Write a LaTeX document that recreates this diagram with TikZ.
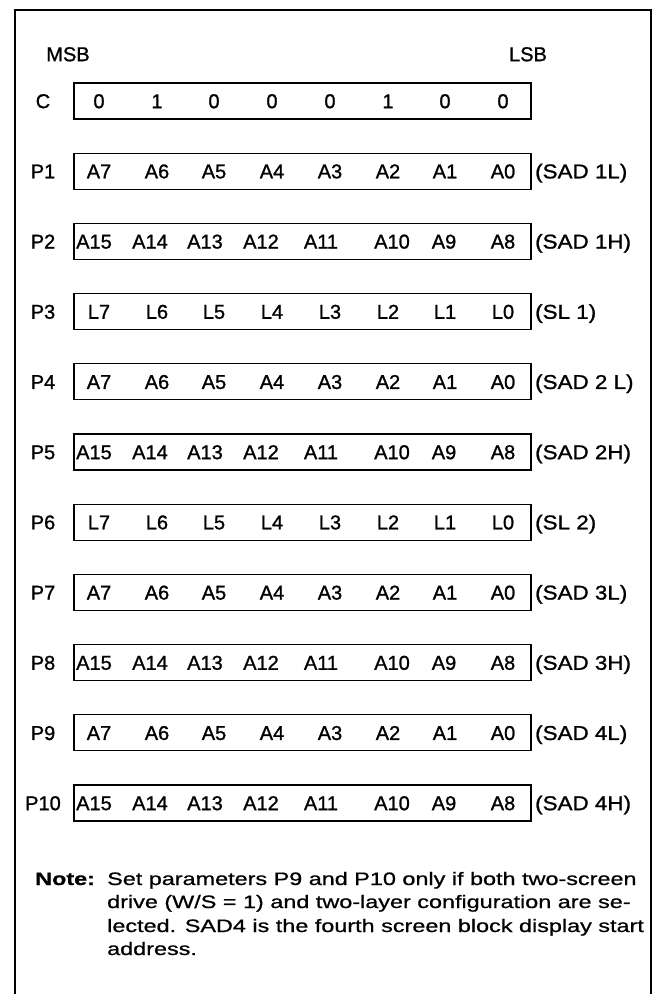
\documentclass[tikz,border=0pt]{standalone}
\usepackage{fontspec}
\setmainfont[FakeBold=1.1]{Liberation Sans}
\newfontfamily\widefont[FakeStretch=1.12, FakeBold=1.1]{Liberation Sans}
\newfontfamily\notefont[FakeStretch=1.3, FakeBold=0.8]{Liberation Sans}

% bit names of each kind of register row (text/x position)
\def\crow{0/99,1/157,0/214,0/272,0/330,1/388,0/445,0/503}
\def\arow{A7/99,A6/157,A5/214,A4/272,A3/330,A2/388,A1/445,A0/503}
\def\hrow{A15/94,A14/150,A13/205,A12/261,A11/321,A10/392,A9/444,A8/503}
\def\lrow{L7/99,L6/157,L5/214,L4/272,L3/330,L2/388,L1/445,L0/503}

\tikzset{
  regbox/.style={draw, line width=1.1pt, minimum width=457pt, minimum height=36pt, inner sep=0pt},
  bitlabel/.style={inner sep=0pt, text height=14.3pt, text depth=0pt},
  rowlabel/.style={bitlabel},
  sidelabel/.style={bitlabel, anchor=west, font=\widefont\fontsize{20}{24}\selectfont},
  noteline/.style={anchor=base west, inner sep=0pt, font=\notefont\fontsize{18}{23}\selectfont},
}

\begin{document}
\begin{tikzpicture}[x=1pt, y=-1pt, every node/.style={font=\fontsize{20}{24}\selectfont}]
  \useasboundingbox (0,0) rectangle (657,994);
  \draw[line width=2.2pt] (15,994) -- (15,10) -- (651,10) -- (651,994);
  \node[bitlabel] (msb) at (68,54) {MSB};
  \node[bitlabel] (lsb) at (528,54) {LSB};
  % command byte
  \node[regbox] (box0) at (302.5,101) {};
  \node[rowlabel] (lab0) at (43,101) {C};
  \foreach \b/\xx [count=\k] in \crow
    \node[bitlabel] (b0-\k) at (\xx,101) {\b};
  % parameter bytes P1..P10
  \foreach \i/\lab/\kind/\rl in {1/P1/arow/{(SAD 1L)}, 2/P2/hrow/{(SAD 1H)}, 3/P3/lrow/{(SL 1)},
      4/P4/arow/{(SAD 2 L)}, 5/P5/hrow/{(SAD 2H)}, 6/P6/lrow/{(SL 2)}, 7/P7/arow/{(SAD 3L)},
      8/P8/hrow/{(SAD 3H)}, 9/P9/arow/{(SAD 4L)}, 10/P10/hrow/{(SAD 4H)}}{
    \pgfmathsetmacro{\yy}{101+70.2*\i}
    \expandafter\let\expandafter\bits\csname\kind\endcsname
    \node[regbox] (box\i) at (302.5,\yy) {};
    \node[rowlabel] (lab\i) at (43,\yy) {\lab};
    \foreach \b/\xx [count=\k] in \bits
      \node[bitlabel] (b\i-\k) at (\xx,\yy) {\b};
    \node[sidelabel] (side\i) at (535,\yy) {\rl};
  }
  % note
  \node[noteline, font=\notefont\bfseries\fontsize{18}{23}\selectfont] (notehead) at (35,885) {Note:};
  \node[noteline] (note1) at (107,885) {Set parameters P9 and P10 only if both two-screen};
  \node[noteline] (note2) at (107,908) {drive (W/S = 1) and two-layer configuration are se-};
  \node[noteline] (note3) at (107,932) {lected. SAD4 is the fourth screen block display start};
  \node[noteline] (note4) at (107,955) {address.};
\end{tikzpicture}
\end{document}
